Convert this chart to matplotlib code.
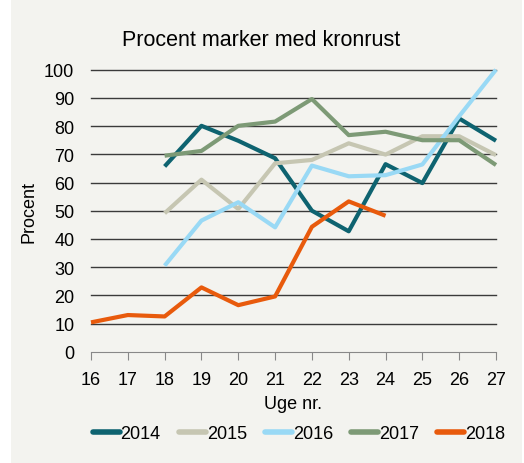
import numpy as np
import matplotlib.pyplot as plt
from matplotlib.patches import Rectangle

plt.rcParams['font.family'] = ['Liberation Sans', 'DejaVu Sans']

# data
weeks_2014 = [18, 19, 20, 21, 22, 23, 24, 25, 26, 27]
vals_2014 = [65.7, 80.1, 74.8, 68.6, 50.0, 42.7, 66.5, 59.8, 82.7, 74.8]
weeks_2015 = [18, 19, 20, 21, 22, 23, 24, 25, 26, 27]
vals_2015 = [49.1, 61.0, 50.6, 66.8, 68.0, 73.9, 69.9, 76.4, 76.4, 69.7]
weeks_2016 = [18, 19, 20, 21, 22, 23, 24, 25, 26, 27]
vals_2016 = [30.5, 46.5, 53.0, 44.1, 66.0, 62.2, 62.6, 66.4, 83.5, 100.0]
weeks_2017 = [18, 19, 20, 21, 22, 23, 24, 25, 26, 27]
vals_2017 = [69.5, 71.2, 80.1, 81.6, 89.6, 76.8, 78.0, 75.0, 75.0, 66.2]
weeks_2018 = [16, 17, 18, 19, 20, 21, 22, 23, 24]
vals_2018 = [10.4, 13.0, 12.5, 22.8, 16.5, 19.6, 44.3, 53.3, 48.2]

series = [
    ('2014', weeks_2014, vals_2014, '#0e6370'),
    ('2015', weeks_2015, vals_2015, '#c6c6b2'),
    ('2016', weeks_2016, vals_2016, '#99d9f5'),
    ('2017', weeks_2017, vals_2017, '#7d9a76'),
    ('2018', weeks_2018, vals_2018, '#e85a0c'),
]

bg = '#f3f3ef'
fig = plt.figure(figsize=(5.24, 4.64), dpi=100)
fig.patch.set_facecolor('white')
fig.patches.append(Rectangle((11/524, 0), 511/524, 1, transform=fig.transFigure,
                             facecolor=bg, edgecolor='none', zorder=-10))

ax = fig.add_axes([91/524, 1 - 352.7/464, 405/524, 282/464])
ax.set_facecolor(bg)

# grid lines
for yv in range(10, 101, 10):
    ax.axhline(yv, color='#3a3a3a', lw=1.0, zorder=1, clip_on=False)

for name, w, v, c in series:
    ax.plot(w, v, color=c, lw=3, label=name, zorder=3, clip_on=False,
            solid_capstyle='butt')

ax.set_xlim(16, 27)
ax.set_ylim(0, 100)
ax.set_xticks(range(16, 28))
ax.set_yticks(range(0, 101, 10))
for s in ['top', 'right', 'left']:
    ax.spines[s].set_visible(False)
ax.spines['bottom'].set_color('#888888')
ax.tick_params(axis='x', direction='out', length=6, color='#888888',
               labelsize=13, pad=8)
ax.tick_params(axis='y', length=0, labelsize=13, pad=12)

ax.set_xlabel('Uge nr.', fontsize=13, labelpad=5)
ax.set_ylabel('Procent', fontsize=13, labelpad=5)
fig.text(261/524, 1 - 40/464, 'Procent marker med kronrust', fontsize=15.5,
         ha='center', va='center')

leg = fig.legend(loc='center', bbox_to_anchor=(299/524, 1 - 435/464), ncol=5,
                 frameon=False, fontsize=13, handlelength=1.5,
                 handletextpad=0.05, columnspacing=1.0)
for line in leg.get_lines():
    line.set_linewidth(4)
    line.set_solid_capstyle('round')

fig.savefig('out.png', dpi=100, facecolor=fig.get_facecolor())
